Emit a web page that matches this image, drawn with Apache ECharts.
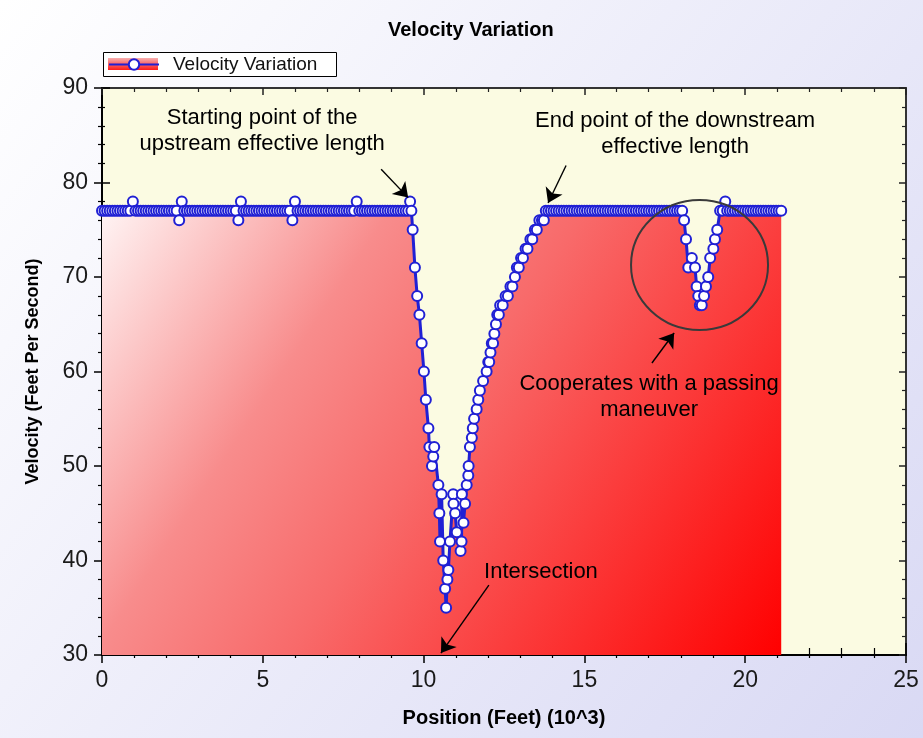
<!DOCTYPE html>
<html><head><meta charset="utf-8">
<script src="https://cdn.jsdelivr.net/npm/echarts@6/dist/echarts.min.js"></script>
<style>html,body{margin:0;padding:0;background:#fff}#c{width:923px;height:738px}</style>
</head><body><div id="c"></div>
<script>
// ---- data: position (10^3 ft) and velocity (ft/s) ----
const upstreamPos = [
0,0.08,0.16,0.24,0.32,0.4,0.48,0.56,0.64,0.72,
0.8,0.88,0.96,1.04,1.12,1.2,1.28,1.36,1.44,1.52,
1.6,1.68,1.76,1.84,1.92,2,2.08,2.16,2.24,2.32,
2.4,2.48,2.56,2.64,2.72,2.8,2.88,2.96,3.04,3.12,
3.2,3.28,3.36,3.44,3.52,3.6,3.68,3.76,3.84,3.92,
4,4.08,4.16,4.24,4.32,4.4,4.48,4.56,4.64,4.72,
4.8,4.88,4.96,5.04,5.12,5.2,5.28,5.36,5.44,5.52,
5.6,5.68,5.76,5.84,5.92,6,6.08,6.16,6.24,6.32,
6.4,6.48,6.56,6.64,6.72,6.8,6.88,6.96,7.04,7.12,
7.2,7.28,7.36,7.44,7.52,7.6,7.68,7.76,7.84,7.92,
8,8.08,8.16,8.24,8.32,8.4,8.48,8.56,8.64,8.72,
8.8,8.88,8.96,9.04,9.12,9.2,9.28,9.36,9.44,9.52];
const upstreamVel = [
77,77,77,77,77,77,77,77,77,77,
77,77,78,77,77,77,77,77,77,77,
77,77,77,77,77,77,77,77,77,77,
76,78,77,77,77,77,77,77,77,77,
77,77,77,77,77,77,77,77,77,77,
77,77,77,76,78,77,77,77,77,77,
77,77,77,77,77,77,77,77,77,77,
77,77,77,77,76,78,77,77,77,77,
77,77,77,77,77,77,77,77,77,77,
77,77,77,77,77,77,77,77,77,78,
77,77,77,77,77,77,77,77,77,77,
77,77,77,77,77,77,77,77,77,77];
const dropPos = [9.58,9.62,9.66,9.73,9.80,9.87,9.94,10.01,10.07,10.15,
10.18,10.26,10.30,10.33,10.46,10.49,10.51,10.56,10.61,10.67,
10.70,10.74,10.77,10.82,10.92,10.93,10.98,11.03,11.15,11.18,
11.19,11.24,11.29,11.34,11.39,11.40,11.44,11.50,11.53,11.57,
11.65,11.70,11.75,11.85];
const dropVel = [78,77,75,71,68,66,63,60,57,54,
52,50,51,52,48,45,42,47,40,37,
35,38,39,42,47,46,45,43,41,42,
47,44,46,48,49,50,52,53,54,55,
56,57,58,59];
const recoverPos = [11.96,12.01,12.04,12.08,12.12,12.16,12.20,12.25,12.29,12.34,
12.38,12.46,12.55,12.62,12.70,12.76,12.84,12.90,12.96,13.03,
13.09,13.17,13.23,13.32,13.38,13.46,13.52,13.60,13.68,13.74,13.80];
const recoverVel = [60,61,61,62,63,63,64,65,66,66,
67,67,68,68,69,69,70,71,71,72,
72,73,73,74,74,75,75,76,76,76,77];
const cruisePos = [
13.88,13.96,14.04,14.12,14.2,14.28,14.36,14.44,14.52,14.6,
14.68,14.76,14.84,14.92,15,15.08,15.16,15.24,15.32,15.4,
15.48,15.56,15.64,15.72,15.8,15.88,15.96,16.04,16.12,16.2,
16.28,16.36,16.44,16.52,16.6,16.68,16.76,16.84,16.92,17,
17.08,17.16,17.24,17.32,17.4,17.48,17.56,17.64,17.72,17.8,
17.88,17.96];
const cruiseVel = [
77,77,77,77,77,77,77,77,77,77,
77,77,77,77,77,77,77,77,77,77,
77,77,77,77,77,77,77,77,77,77,
77,77,77,77,77,77,77,77,77,77,
77,77,77,77,77,77,77,77,77,77,
77,77];
const passPos = [18.04,18.10,18.16,18.23,18.34,18.44,18.49,18.54,18.59,18.65,
18.72,18.78,18.85,18.91,19.01,19.06,19.13,19.22,19.30,19.38,19.44];
const passVel = [77,76,74,71,72,71,69,68,67,67,
68,69,70,72,73,74,75,77,77,78,77];
const tailPos = [19.52,19.6,19.68,19.76,19.84,19.92,20,20.08,20.16,20.24,
20.32,20.4,20.48,20.56,20.64,20.72,20.8,20.88,20.96,21.04,21.12];
const tailVel = [77,77,77,77,77,77,77,77,77,77,
77,77,77,77,77,77,77,77,77,77,77];

const xTicks = [0, 5, 10, 15, 20, 25];
const yTicks = [30, 40, 50, 60, 70, 80, 90];

const seriesName = 'Velocity Variation';
const chartTitle = 'Velocity Variation';
const xName = 'Position (Feet) (10^3)';
const yName = 'Velocity (Feet Per Second)';

// annotations (data coordinates)
const noteLabels = ['Starting point of the\nupstream effective length',
  'End point of the downstream\neffective length',
  'Cooperates with a passing\nmaneuver',
  'Intersection'];
const noteAnchors = [[4.98, 85.45], [17.82, 85.15], [17.01, 57.3], [13.65, 38.8]];
const arrowFrom = [[8.68, 81.4], [14.43, 81.8], [17.1, 60.9], [12.03, 37.4]];
const arrowTo = [[9.52, 78.4], [13.87, 77.83], [17.79, 64.07], [10.54, 30.2]];
const ringCenter = [18.58, 71.27];
const ringRadius = [2.13, 6.88];

// ---- build ----
const allPos = [].concat(upstreamPos, dropPos, recoverPos, cruisePos, passPos, tailPos);
const allVel = [].concat(upstreamVel, dropVel, recoverVel, cruiseVel, passVel, tailVel);
const seriesData = allPos.map((p, i) => [p, allVel[i]]);

const FONT = '"Liberation Sans", Arial, sans-serif';
const BLUE = '#2020d4';

function xAx(extra) {
  return Object.assign({
    type: 'value', min: xTicks[0], max: xTicks[xTicks.length - 1], interval: xTicks[1] - xTicks[0],
    splitLine: { show: false }, axisLabel: { show: false },
    axisLine: { show: false, onZero: false }
  }, extra);
}
function yAx(extra) {
  return Object.assign({
    type: 'value', min: yTicks[0], max: yTicks[yTicks.length - 1], interval: yTicks[1] - yTicks[0],
    splitLine: { show: false }, axisLabel: { show: false },
    axisLine: { show: false, onZero: false }
  }, extra);
}

const option = {
  animation: false,
  backgroundColor: new echarts.graphic.LinearGradient(0, 0, 1, 1, [
    { offset: 0, color: '#ffffff' }, { offset: 1, color: '#d9d9f4' }]),
  title: {
    text: chartTitle, left: 388, top: 20, padding: 0,
    textStyle: { fontFamily: FONT, fontWeight: 'bold', fontSize: 20, color: '#000' }
  },
  legend: {
    left: 108, top: 55, padding: 0, itemWidth: 50, itemHeight: 13,
    data: [seriesName],
    textStyle: { fontFamily: FONT, fontSize: 19, color: '#111', padding: [0, 0, 0, 9] }
  },
  grid: {
    left: 102, right: 17, top: 88, bottom: 83, show: true,
    backgroundColor: '#fbfbe2', borderWidth: 0
  },
  xAxis: [
    xAx({
      position: 'bottom',
      axisLine: { show: true, onZero: false, lineStyle: { color: '#000', width: 2 } },
      axisTick: { show: true, inside: false, length: 8, lineStyle: { color: '#000', width: 1.5 } },
      minorTick: { show: true, splitNumber: 5, length: 3, lineStyle: { color: '#000', width: 1.2 } },
      axisLabel: { show: true, margin: 14, fontFamily: FONT, fontSize: 23, color: '#1a1a1a' },
      name: xName, nameLocation: 'middle', nameGap: 53,
      nameTextStyle: { fontFamily: FONT, fontWeight: 'bold', fontSize: 20, color: '#000' }
    }),
    xAx({
      position: 'bottom',
      axisTick: { show: true, inside: true, length: 12, lineStyle: { color: '#000', width: 1.5 } },
      minorTick: { show: true, splitNumber: 5, length: 7, lineStyle: { color: '#000', width: 1.2 } }
    }),
    xAx({
      position: 'top',
      axisLine: { show: true, onZero: false, lineStyle: { color: '#333', width: 2 } },
      axisTick: { show: true, inside: true, length: 7, lineStyle: { color: '#222', width: 1.5 } },
      minorTick: { show: true, splitNumber: 5, length: 4, lineStyle: { color: '#222', width: 1.2 } }
    })
  ],
  yAxis: [
    yAx({
      position: 'left',
      axisLine: { show: true, onZero: false, lineStyle: { color: '#000', width: 2 } },
      axisTick: { show: true, inside: false, length: 8, lineStyle: { color: '#000', width: 1.5 } },
      minorTick: { show: true, splitNumber: 5, length: 4, lineStyle: { color: '#000', width: 1.2 } },
      axisLabel: { show: true, margin: 14, fontFamily: FONT, fontSize: 23, color: '#1a1a1a' },
      name: yName, nameLocation: 'middle', nameGap: 60,
      nameTextStyle: { fontFamily: FONT, fontWeight: 'bold', fontSize: 18, color: '#000' }
    }),
    yAx({
      position: 'left',
      axisTick: { show: true, inside: true, length: 8, lineStyle: { color: '#000', width: 1.5 } },
      minorTick: { show: true, splitNumber: 5, length: 3, lineStyle: { color: '#000', width: 1.2 } }
    }),
    yAx({
      position: 'right',
      axisLine: { show: true, onZero: false, lineStyle: { color: '#333', width: 2 } },
      axisTick: { show: true, inside: true, length: 7, lineStyle: { color: '#222', width: 1.5 } },
      minorTick: { show: true, splitNumber: 5, length: 4, lineStyle: { color: '#222', width: 1.2 } }
    })
  ],
  series: [{
    name: seriesName, type: 'line', xAxisIndex: 0, yAxisIndex: 0,
    data: seriesData,
    symbol: 'circle', symbolSize: 10, showSymbol: true,
    itemStyle: { color: '#ffffff', borderColor: BLUE, borderWidth: 2 },
    lineStyle: { color: BLUE, width: 3 },
    areaStyle: {
      opacity: 1,
      color: new echarts.graphic.LinearGradient(0, 0, 1, 1, [
        { offset: 0, color: '#fff6f6' }, { offset: 0.3, color: '#f88c8c' },
        { offset: 0.5, color: '#f86a6a' }, { offset: 1, color: '#ff0000' }])
    },
    emphasis: { disabled: true },
    markLine: {
      silent: true, symbol: ['none', 'arrow'], symbolSize: 14,
      lineStyle: { color: '#000', width: 1.4, type: 'solid' },
      label: { show: false }, emphasis: { disabled: true },
      data: arrowFrom.map((f, i) => [{ coord: f }, { coord: arrowTo[i] }])
    }
  }]
};

const chart = echarts.init(document.getElementById('c'), null, { renderer: 'canvas' });
chart.setOption(option);

const toPx = p => chart.convertToPixel({ seriesIndex: 0 }, p);
const graphics = [];
// legend frame and icon backdrop
graphics.push({
  type: 'rect', z: 1, shape: { x: 103.5, y: 52.5, width: 233, height: 24 },
  style: { fill: '#ffffff', stroke: '#000', lineWidth: 1 }
});
graphics.push({
  type: 'rect', z: 2, shape: { x: 108, y: 58, width: 50, height: 12 },
  style: { fill: new echarts.graphic.LinearGradient(0, 0, 0, 1, [
    { offset: 0, color: '#f7b0b0' }, { offset: 1, color: '#ff1a1a' }]) }
});
noteLabels.forEach((t, i) => {
  const p = toPx(noteAnchors[i]);
  graphics.push({
    type: 'text', z: 100, x: p[0], y: p[1],
    style: { text: t, font: '22px "Liberation Sans", Arial, sans-serif', fill: '#000',
      textAlign: 'center', textVerticalAlign: 'middle', align: 'center', verticalAlign: 'middle', lineHeight: 26 }
  });
});
const c0 = toPx(ringCenter);
const c1 = toPx([ringCenter[0] + ringRadius[0], ringCenter[1] + ringRadius[1]]);
graphics.push({
  type: 'ellipse', z: 100,
  shape: { cx: c0[0], cy: c0[1], rx: Math.abs(c1[0] - c0[0]), ry: Math.abs(c1[1] - c0[1]) },
  style: { fill: null, stroke: '#3a3a3a', lineWidth: 2 }
});
chart.setOption({ graphic: graphics });
</script>
</body></html>
